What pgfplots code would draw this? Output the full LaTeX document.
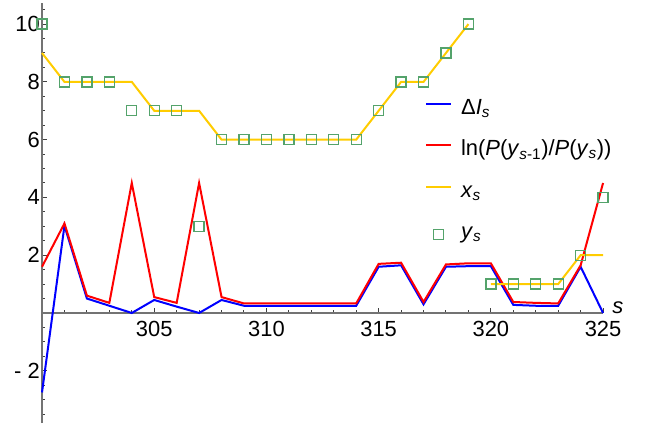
\documentclass[border=0pt]{standalone}
\usepackage{fontspec}
\setmainfont{Liberation Sans}
\usepackage{pgfplots}
\usepackage{pgfplotstable}
\pgfplotsset{compat=1.18}
\definecolor{myyellow}{rgb}{1,0.8,0}
\definecolor{mygreen}{rgb}{0.33,0.64,0.42}
\pgfplotsset{
  legblue/.style={legend image code/.code={\draw[blue, line width=2bp] (0bp,10.5bp) -- (25bp,10.5bp);}},
  legred/.style={legend image code/.code={\draw[red, line width=2bp] (0bp,10.5bp) -- (25bp,10.5bp);}},
  legyel/.style={legend image code/.code={\draw[myyellow, line width=2bp] (0bp,10.5bp) -- (25bp,10.5bp);}},
  legsq/.style={legend image code/.code={\draw[draw=mygreen, line width=1.3bp] plot[mark=square, mark size=5bp, mark options={draw=mygreen, line width=1.3bp}] coordinates {(12.5bp,4bp)};}},
}
\pgfplotstableread{
s dI lnr y
300 -2.75 1.6 10
301 3.02 3.1 8
302 0.5 0.6 8
303 0.25 0.35 8
304 0 4.5 7
305 0.45 0.55 7
306 0.22 0.35 7
307 0 4.5 3
308 0.45 0.55 6
309 0.25 0.33 6
310 0.25 0.33 6
311 0.25 0.33 6
312 0.25 0.33 6
313 0.25 0.33 6
314 0.25 0.33 6
315 1.6 1.7 7
316 1.65 1.74 8
317 0.3 0.38 8
318 1.6 1.68 9
319 1.62 1.72 10
320 1.62 1.72 1
321 0.28 0.38 1
322 0.25 0.35 1
323 0.25 0.33 1
324 1.6 1.65 2
325 0 4.5 4
}\main
\pgfplotstableread{
s x
300 9
301 8
302 8
303 8
304 8
305 7
306 7
307 7
308 6
309 6
310 6
311 6
312 6
313 6
314 6
315 7
316 8
317 8
318 9
319 10
319.5 nan
320 1
321 1
322 1
323 1
324 2
325 2
}\xs
\begin{document}
\begin{tikzpicture}
\begin{axis}[
  scale only axis, width=561bp, height=420bp,
  xmin=300, xmax=325, ymin=-3.81, ymax=10.73,
  axis x line=middle, axis y line=left,
  axis line style={-, draw=black!55, line width=1.2bp},
  xtick={305,310,315,320,325}, xticklabels={305,310,315,320,325},
  minor xtick={301,...,324},
  ytick={-2,2,4,6,8,10}, yticklabels={{- 2},2,4,6,8,10},
  minor ytick={-3.5,-3,-2.5,-1.5,-1,-0.5,0.5,1,1.5,2.5,3,3.5,4.5,5,5.5,6.5,7,7.5,8.5,9,9.5,10.5},
  tick align=inside,
  major tick length=5bp, minor tick length=3bp,
  tick style={black!75, line width=1bp},
  xticklabel style={font=\fontsize{22}{26}\selectfont, inner sep=0pt, anchor=north, yshift=-8bp},
  yticklabel style={font=\fontsize{22}{26}\selectfont, inner sep=0pt, anchor=east, xshift=-2bp},
  clip=false,
  unbounded coords=jump,
  legend style={draw=none, fill=none, at={(axis cs:317.07,7.716)}, anchor=north west,
    font=\fontsize{22}{26}\selectfont, row sep=11.5bp, inner sep=0pt, outer sep=0pt,
    nodes={inner sep=0pt, text height=24bp, text depth=6bp},
    cells={anchor=base west},
    /tikz/every odd column/.append style={column sep=9bp}},
]
\addplot[blue, line width=2bp, mark=none, legblue] table[x=s, y=dI] {\main};
\addlegendentry{\textup{Δ}\textit{I}\textsubscript{\textit{s}}}
\addplot[red, line width=2bp, mark=none, legred] table[x=s, y=lnr] {\main};
\addlegendentry{ln(\textit{P}(\textit{y}\textsubscript{\textit{s}-1})/\textit{P}(\textit{y}\textsubscript{\textit{s}}))}
\addplot[myyellow, line width=2bp, mark=none, legyel] table[x=s, y=x] {\xs};
\addlegendentry{\textit{x}\textsubscript{\textit{s}}}
\addplot[only marks, mark=square, mark size=5bp, mygreen, mark options={line width=1.3bp, fill=none}, legsq]
  table[x=s, y=y] {\main};
\addlegendentry{\textit{y}\textsubscript{\textit{s}}}
\node[anchor=base west, inner sep=0pt, font=\fontsize{22}{26}\selectfont, xshift=9bp, yshift=-1bp] at (axis cs:325,0) {\textit{s}};
\coordinate (bl) at (axis cs:298.128,-4.018);
\coordinate (tr) at (axis cs:327.18,10.834);
\end{axis}
\pgfresetboundingbox
\path[use as bounding box] (bl) rectangle (tr);
\end{tikzpicture}
\end{document}
